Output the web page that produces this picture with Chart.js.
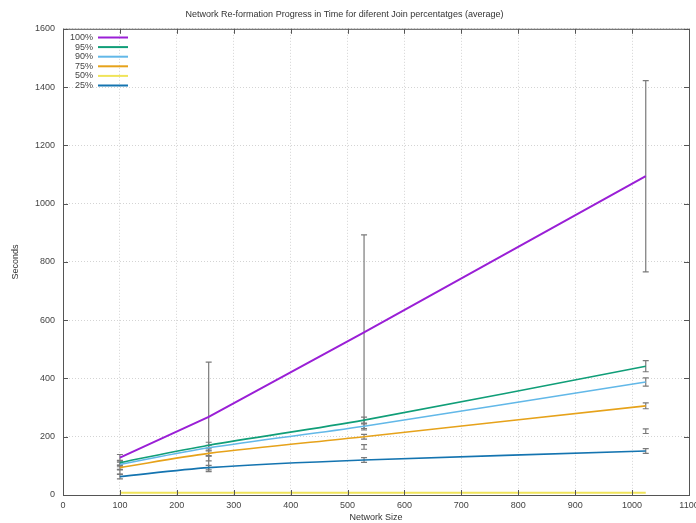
<!DOCTYPE html>
<html>
<head>
<meta charset="utf-8">
<script src="https://cdn.jsdelivr.net/npm/chart.js@4/dist/chart.umd.min.js"></script>
<style>
  body { margin: 0; background: #fff; }
  canvas { display: block; }
</style>
</head>
<body>
<canvas id="joinChart" width="696" height="523"></canvas>
<script>
// network sizes on the x axis
const sizes = [100, 256, 529, 1024];

// average seconds per join percentage
const avg100 = [128, 268, 558, 1094];
const avg95 = [111, 171, 257, 442];
const avg90 = [105, 162, 236, 388];
const avg75 = [94, 143, 200, 306];
const avg50 = [8, 8, 8, 8];
const avg25 = [63, 94, 120, 151];

// error bar centres and half-heights
const mid100 = [128, 268, 558, 1094];
const err100 = [11, 188, 335, 328];
const mid95 = [111, 171, 257, 442];
const err95 = [8, 10, 10, 19];
const mid90 = [105, 162, 236, 388];
const err90 = [8, 8, 8, 14];
const mid75 = [94, 143, 200, 306];
const err75 = [8, 8, 8, 10];
const mid50 = [80, 125, 165, 219];
const err50 = [8, 8, 8, 8];
const mid25 = [63, 94, 120, 151];
const err25 = [8, 8, 8, 8];

const labels = ['100%', '95%', '90%', '75%', '50%', '25%'];
const colors = ['#9a1fd6', '#109e78', '#62b8e8', '#e6a21a', '#f0e45a', '#1474b0'];

const xTicks = [0, 100, 200, 300, 400, 500, 600, 700, 800, 900, 1000, 1100];
const yTicks = [0, 200, 400, 600, 800, 1000, 1200, 1400, 1600];

const series = [
    [avg100, mid100, err100],
    [avg95, mid95, err95],
    [avg90, mid90, err90],
    [avg75, mid75, err75],
    [avg50, mid50, err50],
    [avg25, mid25, err25],
];

const fontFamily = '"Liberation Sans", Arial, sans-serif';

// gray error bars with small caps, under the lines
const errorBars = {
    id: 'errorBars',
    beforeDatasetsDraw(chart) {
        const ctx = chart.ctx;
        const xs = chart.scales.x, ys = chart.scales.y;
        ctx.save();
        ctx.strokeStyle = '#7a7a7a';
        ctx.lineWidth = 1.2;
        chart.data.datasets.forEach(ds => {
            ds.errMid.forEach((m, i) => {
                const x = xs.getPixelForValue(sizes[i]);
                const top = ys.getPixelForValue(m + ds.errSize[i]);
                const bot = ys.getPixelForValue(m - ds.errSize[i]);
                ctx.beginPath();
                ctx.moveTo(x, top); ctx.lineTo(x, bot);
                ctx.moveTo(x - 3, top); ctx.lineTo(x + 3, top);
                ctx.moveTo(x - 3, bot); ctx.lineTo(x + 3, bot);
                ctx.stroke();
            });
        });
        ctx.restore();
    }
};

// gnuplot style frame with inward ticks, and the key in the top left
const frameAndKey = {
    id: 'frameAndKey',
    afterDraw(chart) {
        const ctx = chart.ctx;
        const a = chart.chartArea;
        const xs = chart.scales.x, ys = chart.scales.y;
        ctx.save();
        ctx.strokeStyle = '#555';
        ctx.lineWidth = 1;
        ctx.strokeRect(a.left + 0.5, a.top + 0.5, a.right - a.left, a.bottom - a.top);
        ctx.beginPath();
        xTicks.forEach(v => {
            const x = Math.round(xs.getPixelForValue(v)) + 0.5;
            ctx.moveTo(x, a.bottom); ctx.lineTo(x, a.bottom - 5);
            ctx.moveTo(x, a.top); ctx.lineTo(x, a.top + 5);
        });
        yTicks.forEach(v => {
            const y = Math.round(ys.getPixelForValue(v)) + 0.5;
            ctx.moveTo(a.left, y); ctx.lineTo(a.left + 5, y);
            ctx.moveTo(a.right, y); ctx.lineTo(a.right - 5, y);
        });
        ctx.stroke();

        // key
        ctx.font = '9px ' + fontFamily;
        ctx.textAlign = 'right';
        ctx.textBaseline = 'middle';
        chart.data.datasets.forEach((ds, i) => {
            const y = 37.5 + i * 9.6;
            ctx.fillStyle = '#444';
            ctx.fillText(ds.label, 93, y);
            ctx.strokeStyle = ds.borderColor;
            ctx.lineWidth = 2;
            ctx.beginPath();
            ctx.moveTo(98, y); ctx.lineTo(128, y);
            ctx.stroke();
        });
        ctx.restore();
    }
};

const datasets = series.map((s, i) => ({
    label: labels[i],
    data: s[0].map((v, j) => ({ x: sizes[j], y: v })),
    errMid: s[1],
    errSize: s[2],
    borderColor: colors[i],
    backgroundColor: colors[i],
    borderWidth: i === 0 || i === 4 ? 2 : 1.6,
    pointRadius: 0,
    tension: i === 0 ? 0 : 0.3,
    fill: false,
}));

const context = document.querySelector('#joinChart').getContext('2d');

const joinChart = new Chart(context, {
    type: 'line',
    data: { datasets: datasets },
    options: {
        responsive: false,
        animation: false,
        layout: { padding: { left: 0, right: 7, top: 0, bottom: 0 } },
        plugins: {
            legend: { display: false },
            tooltip: { enabled: false },
            title: {
                display: true,
                text: 'Network Re-formation Progress in Time for diferent Join percentatges (average)',
                color: '#333',
                font: { family: fontFamily, size: 9, weight: 'normal' },
                padding: { top: 9.5, bottom: 8.5 },
            },
        },
        scales: {
            x: {
                type: 'linear',
                min: 0,
                max: 1100,
                afterFit: scale => {
                    scale.height = 28;
                    scale.paddingLeft = 0;
                    scale.paddingRight = 0;
                },
                afterBuildTicks: scale => { scale.ticks = xTicks.map(v => ({ value: v })); },
                ticks: {
                    color: '#444', padding: 5, font: { family: fontFamily, size: 9 },
                    callback: v => String(v),
                },
                grid: { color: '#d4d4d4', drawTicks: false, lineWidth: 1 },
                border: { display: false, dash: [1, 2] },
                title: {
                    display: true,
                    text: 'Network Size',
                    color: '#333',
                    font: { family: fontFamily, size: 9 },
                    padding: { top: 0, bottom: 0.5 },
                },
            },
            y: {
                min: 0,
                max: 1600,
                afterFit: scale => {
                    scale.width = 63;
                    scale.paddingTop = 0;
                    scale.paddingBottom = 0;
                },
                afterBuildTicks: scale => { scale.ticks = yTicks.map(v => ({ value: v })); },
                ticks: {
                    color: '#444', padding: 8, font: { family: fontFamily, size: 9 },
                    callback: v => String(v),
                },
                grid: { color: '#d4d4d4', drawTicks: false, lineWidth: 1 },
                border: { display: false, dash: [1, 2] },
                title: {
                    display: true,
                    text: 'Seconds',
                    color: '#333',
                    font: { family: fontFamily, size: 9 },
                    padding: { top: 10.6, bottom: 0 },
                },
            },
        },
    },
    plugins: [errorBars, frameAndKey],
});
</script>
</body>
</html>
